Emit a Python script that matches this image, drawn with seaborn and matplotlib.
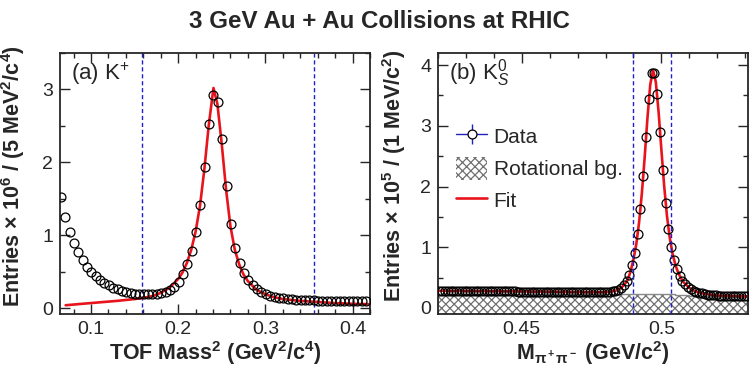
import numpy as np
import matplotlib
matplotlib.use("Agg")
import matplotlib.pyplot as plt
import seaborn as sns
from matplotlib.ticker import MultipleLocator
from matplotlib.lines import Line2D
from matplotlib.patches import Patch
from matplotlib.legend_handler import HandlerTuple

# ---- panel (a): K+ TOF mass^2, 5 MeV^2/c^4 bins (GeV^2/c^4) ----
kp_first_bin = 0.0655
kp_bin_width = 0.005
kp_counts = [1.52, 1.25, 1.05, 0.89, 0.77, 0.66, 0.57, 0.50, 0.44, 0.385,
             0.347, 0.315, 0.283, 0.26, 0.237, 0.223, 0.21, 0.20, 0.197, 0.195,
             0.195, 0.197, 0.20, 0.21, 0.225, 0.25, 0.29, 0.36, 0.475, 0.60,
             0.78, 1.04, 1.42, 1.94, 2.52, 2.92, 2.83, 2.32, 1.68, 1.16,
             0.83, 0.62, 0.48, 0.39, 0.315, 0.26, 0.22, 0.19, 0.17, 0.155,
             0.145, 0.136, 0.129, 0.123, 0.118, 0.114, 0.111, 0.108, 0.106, 0.104,
             0.103, 0.102, 0.101, 0.10, 0.10, 0.10, 0.10, 0.10, 0.10, 0.10,
             0.10]
kp_fit_x = [0.071, 0.09, 0.11, 0.13, 0.15, 0.16, 0.17, 0.18, 0.19, 0.20,
            0.205, 0.21, 0.215, 0.22, 0.225, 0.23, 0.235, 0.2405, 0.245, 0.25,
            0.255, 0.26, 0.265, 0.27, 0.275, 0.28, 0.29, 0.30, 0.31, 0.32,
            0.34, 0.36, 0.38, 0.40, 0.418]
kp_fit_y = [0.04, 0.06, 0.08, 0.10, 0.125, 0.14, 0.165, 0.21, 0.28, 0.40,
            0.49, 0.62, 0.80, 1.05, 1.40, 1.90, 2.50, 3.02, 2.80, 2.25,
            1.62, 1.12, 0.80, 0.60, 0.46, 0.37, 0.25, 0.19, 0.15, 0.125,
            0.10, 0.085, 0.07, 0.06, 0.055]
kp_cuts = [0.158, 0.356]

# ---- panel (b): K0S invariant mass, 1 MeV/c^2 bins (GeV/c^2) ----
k0_first_bin = 0.4205
k0_bin_width = 0.001
k0_counts = [0.285, 0.284, 0.284, 0.283, 0.283, 0.282, 0.282, 0.281, 0.281, 0.280,
             0.280, 0.279, 0.279, 0.278, 0.278, 0.277, 0.277, 0.276, 0.276, 0.275,
             0.275, 0.274, 0.274, 0.273, 0.272, 0.272, 0.271, 0.271, 0.270, 0.270,
             0.269, 0.268, 0.268, 0.267, 0.267, 0.266, 0.265, 0.265, 0.264, 0.264,
             0.263, 0.262, 0.262, 0.261, 0.260, 0.260, 0.259, 0.258, 0.258, 0.257,
             0.257, 0.256, 0.256, 0.255, 0.255, 0.255, 0.255, 0.256, 0.257, 0.259,
             0.262, 0.267, 0.274, 0.285, 0.30, 0.33, 0.37, 0.44, 0.54, 0.70,
             0.91, 1.21, 1.63, 2.17, 2.81, 3.44, 3.87, 3.87, 3.52, 2.90,
             2.28, 1.73, 1.30, 1.00, 0.79, 0.64, 0.53, 0.45, 0.39, 0.345,
             0.31, 0.285, 0.265, 0.25, 0.238, 0.228, 0.22, 0.214, 0.209, 0.205,
             0.202, 0.20, 0.198, 0.196, 0.195, 0.194, 0.193, 0.192, 0.191, 0.19,
             0.19]
k0_fit_x = [0.42, 0.44, 0.46, 0.475, 0.48, 0.482, 0.484, 0.485, 0.486, 0.487,
            0.488, 0.489, 0.490, 0.491, 0.492, 0.493, 0.494, 0.495, 0.496, 0.497,
            0.498, 0.499, 0.500, 0.501, 0.502, 0.503, 0.504, 0.505, 0.506, 0.507,
            0.508, 0.510, 0.512, 0.515, 0.520, 0.531]
k0_fit_y = [0.283, 0.276, 0.268, 0.258, 0.26, 0.27, 0.29, 0.315, 0.35, 0.40,
            0.47, 0.61, 0.80, 1.05, 1.41, 1.89, 2.48, 3.13, 3.68, 3.92,
            3.72, 3.22, 2.60, 2.00, 1.51, 1.15, 0.89, 0.71, 0.58, 0.49,
            0.42, 0.33, 0.275, 0.235, 0.205, 0.19]
# rotational background, 5 MeV/c^2 bins
rot_edges = [0.420, 0.425, 0.430, 0.435, 0.440, 0.445, 0.450, 0.455, 0.460, 0.465,
             0.470, 0.475, 0.480, 0.485, 0.490, 0.495, 0.500, 0.505, 0.510, 0.515,
             0.520, 0.525, 0.531]
rot_bg = [0.235, 0.234, 0.233, 0.232, 0.231, 0.230, 0.229, 0.228, 0.227, 0.226,
          0.225, 0.224, 0.223, 0.225, 0.226, 0.226, 0.224, 0.21, 0.20, 0.19,
          0.18, 0.175]
k0_cuts = [0.4897, 0.5034]

kp_x = kp_first_bin + kp_bin_width * np.arange(len(kp_counts))
k0_x = k0_first_bin + k0_bin_width * np.arange(len(k0_counts))

sns.set_style("ticks")
FONT = "Liberation Sans"
plt.rcParams["font.family"] = [FONT, "DejaVu Sans"]
plt.rcParams["mathtext.fontset"] = "custom"
plt.rcParams["mathtext.rm"] = FONT
plt.rcParams["mathtext.it"] = FONT + ":italic"
plt.rcParams["mathtext.bf"] = FONT + ":bold"
plt.rcParams["hatch.linewidth"] = 0.9

fig = plt.figure(figsize=(7.56, 3.67), dpi=100)
ax1 = fig.add_axes([60 / 756, 1 - 314 / 367, 310 / 756, 261 / 367])
ax2 = fig.add_axes([438 / 756, 1 - 314 / 367, 310 / 756, 261 / 367])

tick_fs = 14
lab_fs = 15.5
red = "#e8141c"
cut_color = "#1f1fd0"
hatch_color = "#707070"

# panel (a)
sns.lineplot(x=kp_fit_x, y=kp_fit_y, ax=ax1, color=red, lw=1.9, zorder=2)
sns.lineplot(x=kp_x, y=kp_counts, ax=ax1, linestyle="", marker="o", ms=6.4,
             mfc="none", mec="black", mew=0.9, zorder=3)
for c in kp_cuts:
    ax1.axvline(c, color=cut_color, lw=1, ls=(0, (3, 2)), zorder=1)
ax1.set_xlim(0.0645, 0.42)
ax1.set_ylim(-0.08, 3.5)
ax1.xaxis.set_major_locator(MultipleLocator(0.1))
ax1.xaxis.set_minor_locator(MultipleLocator(0.02))
ax1.yaxis.set_major_locator(MultipleLocator(1))
ax1.yaxis.set_minor_locator(MultipleLocator(0.5))
ax1.text(0.035, 0.92, r"(a) K$^{+}$", transform=ax1.transAxes, fontsize=16,
         va="center", ha="left")
ax1.set_xlabel(r"TOF Mass$^\mathbf{2}$ (GeV$^\mathbf{2}$/c$^\mathbf{4}$)",
               fontsize=lab_fs, fontweight="bold")
ax1.set_ylabel(r"Entries × 10$^\mathbf{6}$ / (5 MeV$^\mathbf{2}$/c$^\mathbf{4}$)",
               fontsize=lab_fs, fontweight="bold")
ax1.xaxis.set_label_coords(0.5, -0.095)
ax1.yaxis.set_label_coords(-0.106, 0.53)

# panel (b)
ax2.fill_between(rot_edges, -0.1, rot_bg + [rot_bg[-1]], step="post",
                 facecolor="white", edgecolor=hatch_color, hatch="xxxx", lw=0, zorder=1)
ax2.step(rot_edges, rot_bg + [rot_bg[-1]], where="post", color="#8a8a8a", lw=1, zorder=1)
sns.lineplot(x=k0_fit_x, y=k0_fit_y, ax=ax2, color=red, lw=1.9, zorder=2)
sns.lineplot(x=k0_x, y=k0_counts, ax=ax2, linestyle="", marker="o", ms=6.4,
             mfc="none", mec="black", mew=0.9, zorder=3)
for c in k0_cuts:
    ax2.axvline(c, color=cut_color, lw=1, ls=(0, (3, 2)), zorder=4)
ax2.set_xlim(0.42, 0.531)
ax2.set_ylim(-0.1, 4.2)
ax2.xaxis.set_minor_locator(MultipleLocator(0.01))
ax2.yaxis.set_major_locator(MultipleLocator(1))
ax2.yaxis.set_minor_locator(MultipleLocator(0.5))
ax2.set_xticks([0.45, 0.5])
ax2.set_xticklabels(["0.45", "0.5"])
ax2.text(0.035, 0.925, r"(b) K$^{0}_{S}$", transform=ax2.transAxes, fontsize=16,
         va="center", ha="left")
ax2.set_xlabel(r"M$_{\mathbf{\pi^+\pi^-}}$ (GeV/c$^\mathbf{2}$)",
               fontsize=lab_fs, fontweight="bold")
ax2.set_ylabel(r"Entries × 10$^\mathbf{5}$ / (1 MeV/c$^\mathbf{2}$)",
               fontsize=lab_fs, fontweight="bold")
ax2.xaxis.set_label_coords(0.5, -0.095)
ax2.yaxis.set_label_coords(-0.097, 0.53)

data_h = (Line2D([], [], color="#2020c0", lw=1),
          Line2D([], [], color="#2020c0", marker="|", ms=15, mew=1, ls="none"),
          Line2D([], [], color="black", marker="o", ms=6.4, mfc="white", mew=0.9, ls="none"))
bg_h = Patch(facecolor="white", edgecolor=hatch_color, hatch="xxxx", lw=0)
fit_h = Line2D([], [], color=red, lw=1.9)
ax2.legend([data_h, bg_h, fit_h], ["Data", "Rotational bg.", "Fit"],
           handler_map={tuple: HandlerTuple(ndivide=1)},
           loc="upper left", bbox_to_anchor=(0.025, 0.765), frameon=False,
           fontsize=15, handlelength=1.5, handleheight=1.3,
           handletextpad=0.3, labelspacing=0.45, borderpad=0)

for ax in (ax1, ax2):
    ax.tick_params(which="both", direction="in", top=True, right=True,
                   labelsize=tick_fs, width=1)
    ax.tick_params(which="major", length=7, pad=5)
    ax.tick_params(which="minor", length=3.5)
    for s in ax.spines.values():
        s.set_linewidth(1.3)

fig.text(0.502, 1 - 22 / 367, "3 GeV Au + Au Collisions at RHIC", ha="center",
         va="center", fontsize=17.4, fontweight="bold")

fig.savefig("out.png", dpi=100)
